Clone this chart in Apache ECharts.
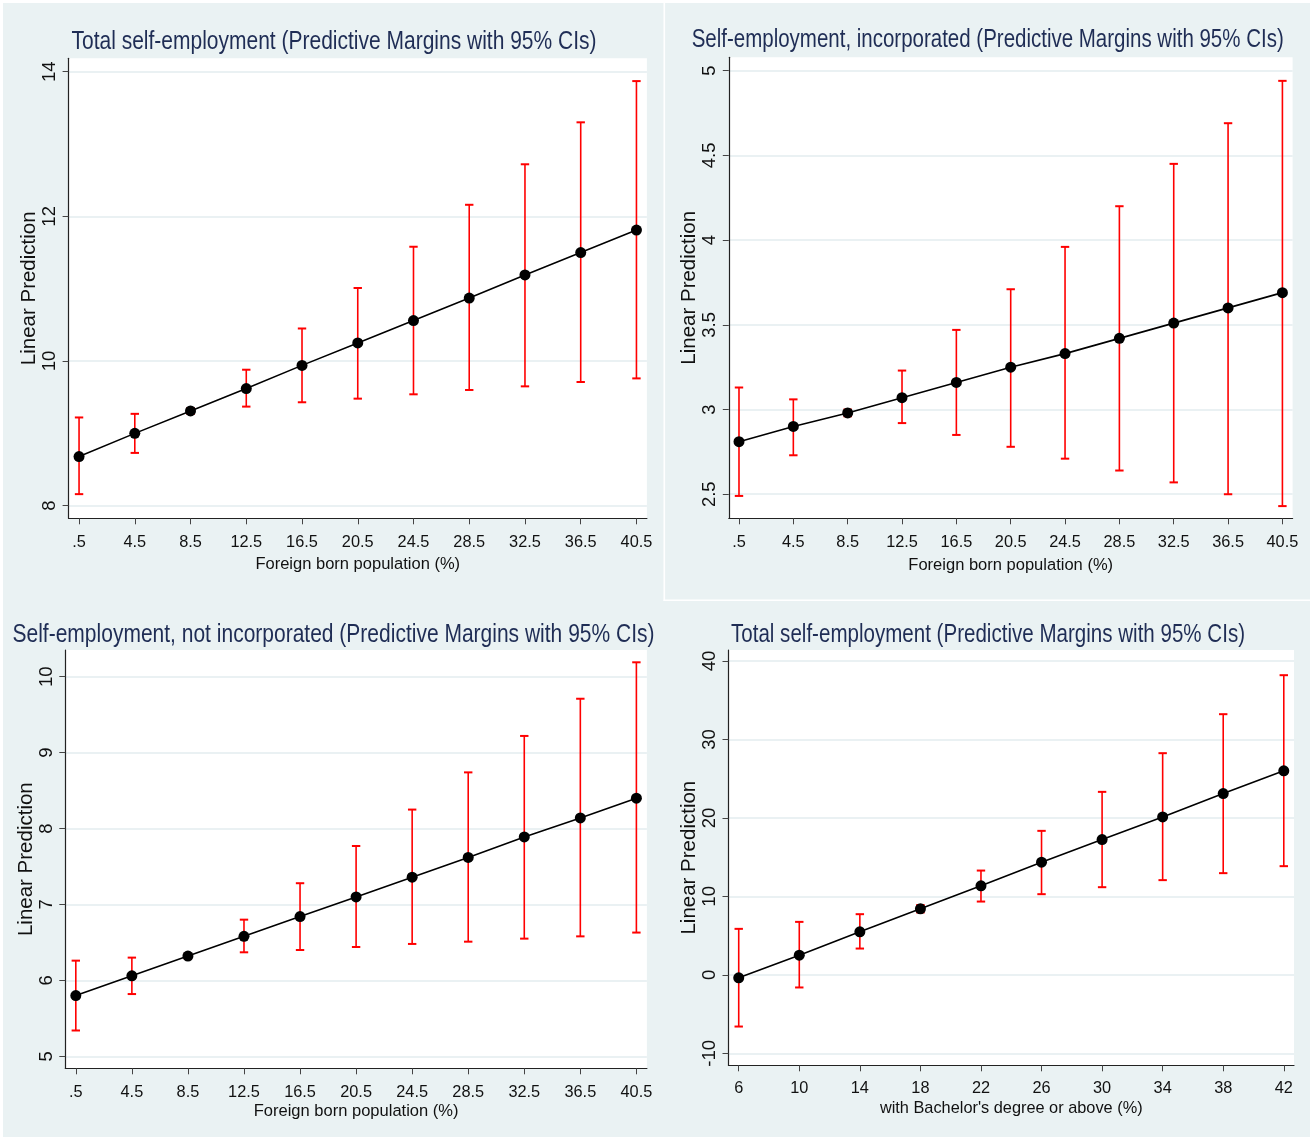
<!DOCTYPE html>
<html>
<head>
<meta charset="utf-8">
<script src="https://cdn.jsdelivr.net/npm/echarts@6/dist/echarts.min.js"></script>
<style>
html,body{margin:0;padding:0;background:#eaf2f3;}
#c{width:1310px;height:1137px;}
</style>
</head>
<body>
<div id="c"></div>
<script>
// ---------------- data ----------------
const xForeign = [0.5, 4.5, 8.5, 12.5, 16.5, 20.5, 24.5, 28.5, 32.5, 36.5, 40.5];
const xBachelor = [6, 10, 14, 18, 22, 26, 30, 34, 38, 42];

const totalMid = [8.68, 9.00, 9.31, 9.62, 9.94, 10.25, 10.56, 10.87, 11.19, 11.50, 11.81];
const totalLo  = [8.16, 8.73, 9.27, 9.37, 9.43, 9.48, 9.54, 9.60, 9.65, 9.71, 9.76];
const totalHi  = [9.22, 9.27, 9.35, 9.88, 10.45, 11.01, 11.58, 12.16, 12.72, 13.30, 13.87];

const incMid = [2.81, 2.90, 2.98, 3.07, 3.16, 3.25, 3.33, 3.42, 3.51, 3.60, 3.69];
const incLo  = [2.49, 2.73, 2.96, 2.92, 2.85, 2.78, 2.71, 2.64, 2.57, 2.50, 2.43];
const incHi  = [3.13, 3.06, 3.00, 3.23, 3.47, 3.71, 3.96, 4.20, 4.45, 4.69, 4.94];

const notIncMid = [5.80, 6.06, 6.32, 6.58, 6.84, 7.10, 7.36, 7.62, 7.89, 8.14, 8.40];
const notIncLo  = [5.34, 5.82, 6.29, 6.37, 6.40, 6.44, 6.48, 6.51, 6.55, 6.58, 6.63];
const notIncHi  = [6.26, 6.30, 6.35, 6.80, 7.28, 7.77, 8.25, 8.74, 9.22, 9.71, 10.19];

const bachMid = [-0.38, 2.51, 5.48, 8.41, 11.34, 14.36, 17.24, 20.13, 23.10, 26.00];
const bachLo  = [-6.59, -1.61, 3.35, 7.95, 9.34, 10.28, 11.17, 12.07, 12.96, 13.85];
const bachHi  = [5.86, 6.75, 7.73, 8.90, 13.29, 18.35, 23.32, 28.25, 33.22, 38.19];

const yTicksTotal  = [8, 10, 12, 14];
const yTicksInc    = [2.5, 3, 3.5, 4, 4.5, 5];
const yTicksNotInc = [5, 6, 7, 8, 9, 10];
const yTicksBach   = [-10, 0, 10, 20, 30, 40];

const titles = [
  'Total self-employment (Predictive Margins with 95% CIs)',
  'Self-employment, incorporated (Predictive Margins with 95% CIs)',
  'Self-employment, not incorporated (Predictive Margins with 95% CIs)',
  'Total self-employment (Predictive Margins with 95% CIs)'
];
const xNameForeign = 'Foreign born population (%)';
const xNameBach = "with Bachelor's degree or above (%)";
const yName = 'Linear Prediction';

// ---------------- fonts ----------------
const mctx = document.createElement('canvas').getContext('2d');
function hasFont(f){
  const s = 'abcdefghijklmnopqrstuvwxyz0123456789ABCDEF';
  let diff = false;
  ['monospace','serif'].forEach(function(g){
    mctx.font = '72px ' + g; const a = mctx.measureText(s).width;
    mctx.font = "72px '" + f + "', " + g; const b = mctx.measureText(s).width;
    if (a !== b) diff = true;
  });
  return diff;
}
const HFONT = hasFont('Liberation Sans Narrow') ? "'Liberation Sans Narrow', 'Liberation Sans', Arial, sans-serif" : "'Liberation Sans', Arial, sans-serif";
const VFONT = "'Liberation Sans', Arial, sans-serif";
function textWidth(text, size){
  mctx.font = size + 'px ' + HFONT;
  return mctx.measureText(text).width;
}
function fitSize(text, width){
  return 100 * width / textWidth(text, 100);
}
const tickSize = fitSize('40.5', 31.8);
const TITLE_COLOR = '#1f2d55';
const TITLE_SIZE = 25.5;

// ---------------- layout ----------------
const panels = [
  {grid:{left:68.6, top:58.3, width:578.3, height:460}, x:xForeign, mid:totalMid, lo:totalLo, hi:totalHi,
   xr:[-0.25, 41.25], yr:[7.826, 14.185], yt:yTicksTotal, xName:xNameForeign, xW:205,
   title:{x:334, y:41.5, w:525}, lm:16.5, ng:38, yng:22},
  {grid:{left:728.8, top:57.3, width:563.8, height:461}, x:xForeign, mid:incMid, lo:incLo, hi:incHi,
   xr:[-0.25, 41.25], yr:[2.358, 5.079], yt:yTicksInc, xName:xNameForeign, xW:205,
   title:{x:987.7, y:40.3, w:592}, lm:16.5, ng:39, yng:22},
  {grid:{left:65.3, top:650, width:581.6, height:418.3}, x:xForeign, mid:notIncMid, lo:notIncLo, hi:notIncHi,
   xr:[-0.25, 41.25], yr:[4.842, 10.352], yt:yTicksNotInc, xName:xNameForeign, xW:205,
   title:{x:333.5, y:634.5, w:642}, lm:16, ng:34.5, yng:19},
  {grid:{left:728.5, top:650, width:565.5, height:415.3}, x:xBachelor, mid:bachMid, lo:bachLo, hi:bachHi,
   xr:[5.325, 42.675], yr:[-11.53, 41.4], yt:yTicksBach, xName:xNameBach, xW:263,
   title:{x:988, y:634.5, w:514}, lm:15, ng:35, yng:22}
];

const fmt = function(v){ return String(v).replace(/^0\./, '.').replace(/^-0\./, '-.'); };

const grid = [], xAxis = [], yAxis = [], series = [], graphic = [];

graphic.push({type:'rect', shape:{x:0, y:0, width:1310, height:3}, style:{fill:'#ffffff'}, silent:true});
graphic.push({type:'rect', shape:{x:0, y:0, width:3, height:1137}, style:{fill:'#ffffff'}, silent:true});
graphic.push({type:'rect', shape:{x:663.5, y:0, width:1.6, height:601}, style:{fill:'#ffffff'}, silent:true});
graphic.push({type:'rect', shape:{x:663.5, y:599.5, width:646.5, height:1.6}, style:{fill:'#ffffff'}, silent:true});

panels.forEach(function(p, i){
  grid.push(Object.assign({show:true, backgroundColor:'#ffffff', borderWidth:0, containLabel:false}, p.grid));
  xAxis.push({
    type:'value', gridIndex:i, min:p.xr[0], max:p.xr[1],
    axisLine:{show:true, onZero:false, lineStyle:{color:'#222', width:1.2}},
    axisTick:{show:true, customValues:p.x, length:6, lineStyle:{color:'#444', width:1}},
    axisLabel:{show:true, customValues:p.x, formatter:fmt, margin:p.lm, color:'#111',
               fontFamily:HFONT, fontSize:tickSize},
    splitLine:{show:false},
    name:p.xName, nameLocation:'middle', nameGap:p.ng,
    nameTextStyle:{color:'#111', fontFamily:HFONT, fontSize:fitSize(p.xName, p.xW)}
  });
  yAxis.push({
    type:'value', gridIndex:i, min:p.yr[0], max:p.yr[1],
    axisLine:{show:true, onZero:false, lineStyle:{color:'#222', width:1.2}},
    axisTick:{show:true, customValues:p.yt, length:6, lineStyle:{color:'#444', width:1}},
    axisLabel:{show:true, customValues:p.yt, formatter:fmt, rotate:90, margin:9, color:'#111',
               fontFamily:VFONT, fontSize:18.5},
    splitLine:{show:true, lineStyle:{color:'#e3ecef', width:1.6}},
    name:yName, nameLocation:'middle', nameGap:p.yng, nameRotate:90,
    nameTextStyle:{color:'#111', fontFamily:VFONT, fontSize:20.5}
  });
  const ci = p.x.map(function(x, k){ return [x, p.lo[k], p.hi[k]]; });
  series.push({
    type:'custom', xAxisIndex:i, yAxisIndex:i, data:ci, z:2, silent:true,
    renderItem:function(params, api){
      const x = api.value(0), lo = api.value(1), hi = api.value(2);
      const a = api.coord([x, lo]), b = api.coord([x, hi]);
      const c = 4.2;
      const st = {stroke:'#ff0000', lineWidth:1.6};
      return {type:'group', children:[
        {type:'line', shape:{x1:a[0], y1:a[1], x2:b[0], y2:b[1]}, style:st},
        {type:'line', shape:{x1:a[0]-c, y1:a[1], x2:a[0]+c, y2:a[1]}, style:{stroke:'#ff0000', lineWidth:2}},
        {type:'line', shape:{x1:b[0]-c, y1:b[1], x2:b[0]+c, y2:b[1]}, style:{stroke:'#ff0000', lineWidth:2}}
      ]};
    }
  });
  series.push({
    type:'line', xAxisIndex:i, yAxisIndex:i, z:3, silent:true,
    data:p.x.map(function(x, k){ return [x, p.mid[k]]; }),
    symbol:'circle', symbolSize:11, showSymbol:true,
    lineStyle:{color:'#000', width:1.6}, itemStyle:{color:'#000'}
  });
  const natural = textWidth(titles[i], TITLE_SIZE);
  graphic.push({type:'text', x:p.title.x, y:p.title.y, silent:true,
    scaleX: p.title.w / natural, scaleY: 1,
    style:{text:titles[i], fill:TITLE_COLOR, fontFamily:HFONT, fontSize:TITLE_SIZE,
           textAlign:'center', textVerticalAlign:'middle'}});
});

const chart = echarts.init(document.getElementById('c'), null, {renderer:'canvas'});
chart.setOption({
  backgroundColor:'#eaf2f3',
  animation:false,
  grid:grid, xAxis:xAxis, yAxis:yAxis, series:series, graphic:graphic
});
</script>
</body>
</html>
